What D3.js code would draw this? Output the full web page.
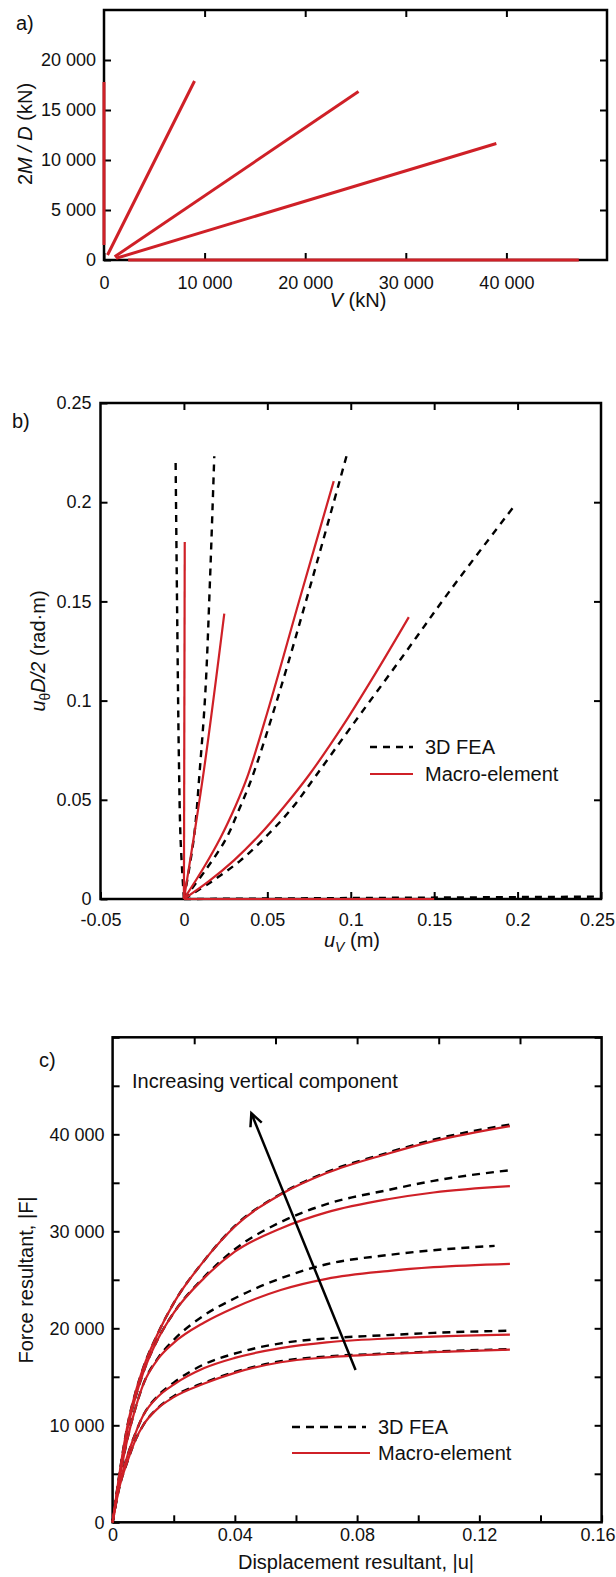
<!doctype html>
<html lang="en">
<head>
<meta charset="utf-8"/>
<title>Macro-element vs 3D FEA</title>
<style>
  body { margin: 0; background: #fff; }
  svg { display: block; font-family: "Liberation Sans", Arial, sans-serif; }
  .tick text { font-size: 18px; fill: #111; }
  .tick line { stroke: #000; stroke-width: 2; }
  .title { font-size: 20px; fill: #111; }
</style>
<script src="https://d3js.org/d3.v7.min.js"></script>
</head>
<body>
<svg width="616" height="1577"></svg>
<script>
// ---- panel a: load paths, V against 2M/D (kN)
var aLinesV = [[0, 0], [2400, 47200], [350, 9000], [1060, 25300], [1200, 39000]];
var aLinesM = [[1500, 17800], [0, 0], [500, 17900], [330, 16850], [170, 11650]];
var aXTicks = [0, 10000, 20000, 30000, 40000];
var aYTicks = [0, 5000, 10000, 15000, 20000];

// ---- panel b: displacement paths, uV against u_theta D/2
var bMacroU = [[0, 0.0005], [0, 0.15], [0, 0.012, 0.0242],
               [0, 0.012, 0.022, 0.031, 0.038, 0.05, 0.07, 0.0898],
               [0, 0.015, 0.03, 0.045, 0.06, 0.075, 0.095, 0.115, 0.1348]];
var bMacroT = [[0, 0.18], [0, 0], [0, 0.065, 0.1438],
               [0, 0.016, 0.031, 0.047, 0.0615, 0.094, 0.153, 0.2106],
               [0, 0.009, 0.0195, 0.032, 0.0465, 0.0625, 0.087, 0.114, 0.1421]];
var bFeaU = [[0, -0.002, -0.003, -0.004, -0.005],
             [0, 0.006, 0.0095, 0.0128, 0.0156, 0.0182],
             [0, 0.013, 0.025, 0.033, 0.041, 0.057, 0.0765, 0.0981],
             [0, 0.017, 0.034, 0.051, 0.065, 0.079, 0.1, 0.13, 0.16, 0.197],
             [0, 0.25]];
var bFeaT = [[0, 0.03, 0.07, 0.14, 0.2224],
             [0, 0.031, 0.065, 0.1035, 0.16, 0.2232],
             [0, 0.0146, 0.03, 0.045, 0.0616, 0.1035, 0.16, 0.2252],
             [0, 0.009, 0.0195, 0.033, 0.046, 0.062, 0.0865, 0.121, 0.156, 0.197],
             [0, 0.0012]];
var bXTicks = [-0.05, 0, 0.05, 0.1, 0.15, 0.2, 0.25];
var bYTicks = [0, 0.05, 0.1, 0.15, 0.2, 0.25];

// ---- panel c: force resultant against displacement resultant
var cDisp = [0, 0.002, 0.005, 0.0075, 0.01, 0.015, 0.02, 0.03, 0.04, 0.055, 0.07, 0.09, 0.105, 0.13];
var cMacro = [
  [0, 3300, 6400, 8500, 10000, 11800, 12900, 14300, 15400, 16500, 17000, 17350, 17550, 17800],
  [0, 3500, 7000, 9200, 11000, 13000, 14200, 15900, 16950, 17950, 18550, 18950, 19150, 19350],
  [0, 4000, 8800, 11800, 14200, 16900, 18500, 20600, 22150, 23950, 25100, 25900, 26300, 26650],
  [0, 4300, 9800, 12900, 15400, 19000, 21600, 25200, 27900, 30300, 31950, 33300, 34000, 34650],
  [0, 4500, 10200, 13400, 15900, 19600, 22600, 27000, 30500, 33800, 36000, 38000, 39300, 40850]];
var cFea = [
  [0, 3300, 6400, 8500, 10000, 11850, 13000, 14400, 15500, 16600, 17100, 17400, 17600, 17850],
  [0, 3500, 7000, 9200, 11000, 13100, 14400, 16300, 17400, 18450, 18950, 19300, 19530, 19750],
  [0, 4000, 8800, 11800, 14200, 17000, 18800, 21350, 23100, 25150, 26600, 27550, 28050, 28500],
  [0, 4300, 9800, 12900, 15400, 19000, 21600, 25300, 28150, 30950, 32800, 34250, 35200, 36300],
  [0, 4500, 10200, 13400, 15900, 19600, 22600, 27000, 30550, 33850, 36100, 38100, 39450, 41000]];
var cFeaEnd = [0.13, 0.13, 0.125, 0.13, 0.13];
var cXTicks = [0, 0.04, 0.08, 0.12, 0.16];
var cXMinor = [0.02, 0.06, 0.1, 0.14];
var cXTop = [0.0267, 0.0533, 0.08, 0.1067, 0.1333];
var cYTicks = [0, 10000, 20000, 30000, 40000];
var cYMinor = [5000, 15000, 25000, 35000, 45000, 50000];
var cArrow = [[0.0795, 15700], [0.0454, 42170]];

var RED = "#cf2027";
var svg = d3.select("svg");
svg.append("rect").attr("width", 616).attr("height", 1577).attr("fill", "#fff");

function kfmt(d) { return d === 0 ? "0" : d3.format(",")(d).replace(",", " "); }
function dfmt(d) { return String(+d.toFixed(3)); }

function frame(o) {
    var x = d3.scaleLinear().domain(o.xd).range([o.l, o.r]);
    var y = d3.scaleLinear().domain(o.yd).range([o.b, o.t]);
    var g = svg.append("g");
    var inS = 7;

    function ax(gen, tr, vals, labels, fmt, pad) {
        var sel = g.append("g").attr("transform", tr)
            .call(gen.tickValues(vals)
                .tickFormat(function(d) {
                    return labels.some(function(v) { return Math.abs(v - d) < 1e-9; }) ? fmt(d) : "";
                })
                .tickSizeInner(-inS).tickSizeOuter(0).tickPadding(pad));
        sel.select(".domain").remove();
        return sel;
    }
    var bottom = ax(d3.axisBottom(x), "translate(0," + o.b + ")", o.xb, o.xl, o.fx, o.px);
    // last label sits on the page edge: nudge it in a little
    var last = o.xd[1];
    bottom.selectAll(".tick text")
        .filter(function(d) { return Math.abs(d - last) < 1e-9; })
        .attr("dx", o.lastDx || 0);
    ax(d3.axisTop(x), "translate(0," + o.t + ")", o.xt, [], o.fx, 0);
    ax(d3.axisLeft(y), "translate(" + o.l + ",0)", o.yl2, o.yl, o.fy, o.py);
    ax(d3.axisRight(y), "translate(" + o.r + ",0)", o.yr, [], o.fy, 0);
    g.selectAll(".tick text").attr("font-family", null).attr("font-size", null);
    g.append("rect").attr("x", o.l).attr("y", o.t)
        .attr("width", o.r - o.l).attr("height", o.b - o.t)
        .attr("fill", "none").attr("stroke", "#000").attr("stroke-width", 2.5);
    return { x: x, y: y, g: g };
}

function pathOf(xs, ys, sx, sy, curve) {
    var pts = xs.map(function(v, i) { return [v, ys[i]]; });
    return d3.line().x(function(d) { return sx(d[0]); })
                    .y(function(d) { return sy(d[1]); })
                    .curve(curve || d3.curveLinear)(pts);
}

// ================= panel a =================
var A = frame({ xd: [0, 50000], yd: [0, 25000], l: 104, r: 607, t: 10, b: 260,
    xb: aXTicks, xl: aXTicks, xt: aXTicks.slice(1), fx: kfmt, px: 16,
    yl2: aYTicks, yl: aYTicks, yr: aYTicks.slice(1), fy: kfmt, py: 8 });

aLinesV.forEach(function(vs, i) {
    svg.append("path").attr("d", pathOf(vs, aLinesM[i], A.x, A.y))
        .attr("fill", "none").attr("stroke", RED).attr("stroke-width", 3);
});

svg.append("text").attr("class", "title").attr("x", 16).attr("y", 30).text("a)");
var aX = svg.append("text").attr("class", "title").attr("x", 358).attr("y", 307).attr("text-anchor", "middle");
aX.append("tspan").attr("font-style", "italic").text("V");
aX.append("tspan").text(" (kN)");
var aY = svg.append("text").attr("class", "title").attr("text-anchor", "middle")
    .attr("transform", "translate(32,134) rotate(-90)");
aY.append("tspan").text("2");
aY.append("tspan").attr("font-style", "italic").text("M / D");
aY.append("tspan").text(" (kN)");

// ================= panel b =================
var B = frame({ xd: [-0.05, 0.25], yd: [0, 0.25], l: 100.5, r: 601, t: 403, b: 899,
    xb: bXTicks, xl: bXTicks, xt: bXTicks.slice(1, 6), fx: dfmt, px: 14, lastDx: -4,
    yl2: bYTicks, yl: bYTicks, yr: bYTicks.slice(1, 5), fy: dfmt, py: 9 });

var smooth = d3.curveCatmullRom.alpha(0.5);
bFeaU.forEach(function(us, i) {
    svg.append("path").attr("d", pathOf(us, bFeaT[i], B.x, B.y, smooth))
        .attr("fill", "none").attr("stroke", "#000").attr("stroke-width", 2.4)
        .attr("stroke-dasharray", "7,6");
});
bMacroU.forEach(function(us, i) {
    svg.append("path").attr("d", pathOf(us, bMacroT[i], B.x, B.y, smooth))
        .attr("fill", "none").attr("stroke", RED).attr("stroke-width", 2.2);
});

svg.append("text").attr("class", "title").attr("x", 12).attr("y", 428).text("b)");
var bX = svg.append("text").attr("class", "title").attr("x", 352).attr("y", 947).attr("text-anchor", "middle");
bX.append("tspan").attr("font-style", "italic").text("u");
bX.append("tspan").attr("font-style", "italic").attr("font-size", "14px").attr("dy", 5).text("V");
bX.append("tspan").attr("dy", -5).text(" (m)");
var bY = svg.append("text").attr("class", "title").attr("text-anchor", "middle")
    .attr("transform", "translate(45,651) rotate(-90)");
bY.append("tspan").attr("font-style", "italic").text("u");
bY.append("tspan").attr("font-size", "14px").attr("dy", 5).text("θ");
bY.append("tspan").attr("font-style", "italic").attr("dy", -5).text("D/2");
bY.append("tspan").text(" (rad·m)");

// legend b
svg.append("line").attr("x1", 370).attr("x2", 413).attr("y1", 747).attr("y2", 747)
    .attr("stroke", "#000").attr("stroke-width", 2.4).attr("stroke-dasharray", "7,6");
svg.append("line").attr("x1", 370).attr("x2", 413).attr("y1", 774).attr("y2", 774)
    .attr("stroke", RED).attr("stroke-width", 2.2);
svg.append("text").attr("class", "title").attr("x", 425).attr("y", 754).text("3D FEA");
svg.append("text").attr("class", "title").attr("x", 425).attr("y", 781).text("Macro-element");

// ================= panel c =================
var C = frame({ xd: [0, 0.16], yd: [0, 50000], l: 112.6, r: 601.6, t: 1037.3, b: 1522.3,
    xb: cXTicks.concat(cXMinor), xl: cXTicks, xt: cXTop, fx: dfmt, px: 6, lastDx: -4,
    yl2: cYTicks.concat(cYMinor), yl: cYTicks, yr: cYTicks.slice(1).concat(cYMinor), fy: kfmt, py: 8 });

cFea.forEach(function(fs, i) {
    var xs = cDisp.slice(); xs[xs.length - 1] = cFeaEnd[i];
    svg.append("path").attr("d", pathOf(xs, fs, C.x, C.y, d3.curveMonotoneX))
        .attr("fill", "none").attr("stroke", "#000").attr("stroke-width", 2.4)
        .attr("stroke-dasharray", "8,6");
});
cMacro.forEach(function(fs) {
    svg.append("path").attr("d", pathOf(cDisp, fs, C.x, C.y, d3.curveMonotoneX))
        .attr("fill", "none").attr("stroke", RED).attr("stroke-width", 2.2);
});

// arrow
var ax0 = C.x(cArrow[0][0]), ay0 = C.y(cArrow[0][1]);
var ax1 = C.x(cArrow[1][0]), ay1 = C.y(cArrow[1][1]);
var ang = Math.atan2(ay1 - ay0, ax1 - ax0), hl = 14, ha = 0.45;
svg.append("line").attr("x1", ax0).attr("y1", ay0).attr("x2", ax1).attr("y2", ay1)
    .attr("stroke", "#000").attr("stroke-width", 2.5);
svg.append("path")
    .attr("d", "M" + (ax1 - hl * Math.cos(ang - ha)) + "," + (ay1 - hl * Math.sin(ang - ha)) +
               "L" + ax1 + "," + ay1 +
               "L" + (ax1 - hl * Math.cos(ang + ha)) + "," + (ay1 - hl * Math.sin(ang + ha)))
    .attr("fill", "none").attr("stroke", "#000").attr("stroke-width", 2.5);

svg.append("text").attr("class", "title").attr("x", 132).attr("y", 1088).text("Increasing vertical component");
svg.append("text").attr("class", "title").attr("x", 39).attr("y", 1067).text("c)");
svg.append("text").attr("class", "title").attr("x", 356).attr("y", 1569).attr("text-anchor", "middle")
    .text("Displacement resultant, |u|");
svg.append("text").attr("class", "title").attr("text-anchor", "middle")
    .attr("transform", "translate(33,1280) rotate(-90)").text("Force resultant, |F|");

// legend c
svg.append("line").attr("x1", 292).attr("x2", 366).attr("y1", 1427).attr("y2", 1427)
    .attr("stroke", "#000").attr("stroke-width", 2.4).attr("stroke-dasharray", "8,6");
svg.append("line").attr("x1", 292).attr("x2", 370).attr("y1", 1453).attr("y2", 1453)
    .attr("stroke", RED).attr("stroke-width", 2.2);
svg.append("text").attr("class", "title").attr("x", 378).attr("y", 1434).text("3D FEA");
svg.append("text").attr("class", "title").attr("x", 378).attr("y", 1460).text("Macro-element");
</script>
</body>
</html>
